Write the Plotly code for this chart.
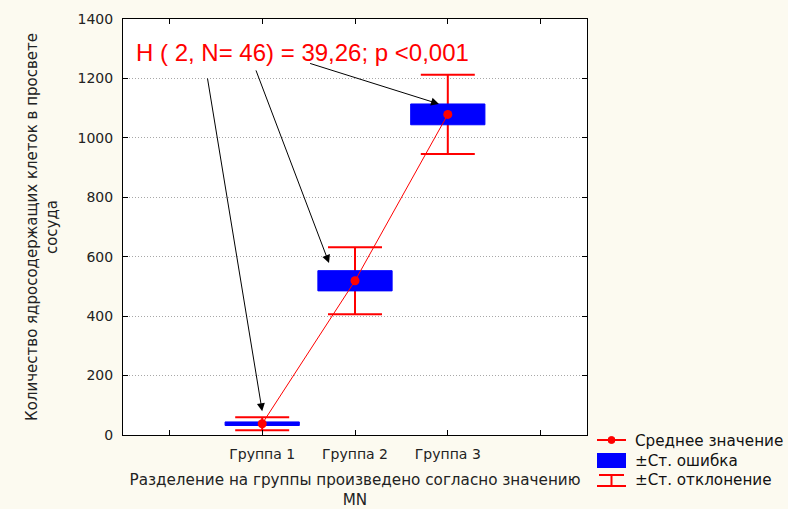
import plotly.graph_objects as go

# ---- data ----
groups = ["Группа 1", "Группа 2", "Группа 3"]
positions = [2, 3, 4]
means = [38, 519, 1079]
se = [6, 34, 35]
sd = [22, 113, 133]

FONT = "DejaVu Sans, Verdana, sans-serif"
AFONT = "Liberation Sans, Arial, sans-serif"
W, H = 788, 509
L, R, T, B = 123, 201, 19, 74
pw, ph = W - L - R, H - T - B

def px(x):
    return (x - L) / pw

def py(y):
    return (H - B - y) / ph

fig = go.Figure()

# SD error bars
fig.add_trace(go.Scatter(
    x=positions, y=means, mode="markers",
    marker=dict(size=1, color="rgba(0,0,0,0)"),
    error_y=dict(type="data", array=sd, visible=True, color="#ff0000",
                 thickness=2, width=27),
    showlegend=False, hoverinfo="skip"))

# SE boxes
half = 0.4
for xp, m, s in zip(positions, means, se):
    fig.add_trace(go.Scatter(
        x=[xp - half, xp + half, xp + half, xp - half, xp - half],
        y=[m - s, m - s, m + s, m + s, m - s],
        mode="lines", fill="toself", fillcolor="#0000ff",
        line=dict(color="#0000ff", width=1),
        showlegend=False, hoverinfo="skip"))

# mean line
fig.add_trace(go.Scatter(
    x=positions, y=means, mode="lines+markers",
    line=dict(color="#ff0000", width=1),
    marker=dict(color="#ff0000", size=9),
    showlegend=False))

annotations = [
    dict(x=2.435, y=1287, xref="x", yref="y", showarrow=False,
         text="H ( 2, N= 46) = 39,26; p <0,001",
         font=dict(family=AFONT, size=24, color="#ff0000")),
]
arrows = [((1.408, 1205), (2.0, 80)),
          ((1.927, 1232), (2.72, 579)),
          ((2.5, 1252), (3.905, 1114))]
for (tx, ty), (hx, hy) in arrows:
    annotations.append(dict(x=hx, y=hy, ax=tx, ay=ty, xref="x", yref="y",
                            axref="x", ayref="y", text="", showarrow=True,
                            arrowhead=2, arrowsize=1.6, arrowwidth=1,
                            arrowcolor="#000000"))

# manual legend
shapes = []
leg_x0, leg_x1 = 597, 626
shapes.append(dict(type="line", xref="paper", yref="paper",
                   x0=px(leg_x0), x1=px(leg_x1), y0=py(440), y1=py(440),
                   line=dict(color="#ff0000", width=2)))
shapes.append(dict(type="circle", xref="paper", yref="paper",
                   x0=px(608), x1=px(615), y0=py(443.5), y1=py(436.5),
                   fillcolor="#ff0000", line=dict(color="#ff0000", width=1)))
shapes.append(dict(type="rect", xref="paper", yref="paper",
                   x0=px(leg_x0), x1=px(leg_x1), y0=py(468), y1=py(453),
                   fillcolor="#0000ff", line=dict(width=0)))
shapes.append(dict(type="line", xref="paper", yref="paper",
                   x0=px(leg_x0 + 2), x1=px(leg_x1 - 2), y0=py(475), y1=py(475),
                   line=dict(color="#ff0000", width=2)))
shapes.append(dict(type="line", xref="paper", yref="paper",
                   x0=px(611.5), x1=px(611.5), y0=py(475), y1=py(486),
                   line=dict(color="#ff0000", width=2)))
shapes.append(dict(type="line", xref="paper", yref="paper",
                   x0=px(leg_x0), x1=px(leg_x1), y0=py(486), y1=py(486),
                   line=dict(color="#ff0000", width=2)))

legend_labels = ["Среднее значение", "±Ст. ошибка", "±Ст. отклонение"]
legend_y = [441, 461, 480]
for lab, ly in zip(legend_labels, legend_y):
    annotations.append(dict(x=px(633), y=py(ly), xref="paper", yref="paper",
                            xanchor="left", yanchor="middle", showarrow=False,
                            text=lab, font=dict(family=FONT, size=15.2, color="#111111")))

fig.update_layout(
    width=W, height=H,
    margin=dict(l=L, r=R, t=T, b=B),
    paper_bgcolor="#fcfaf0",
    plot_bgcolor="#ffffff",
    font=dict(family=FONT, size=14, color="#222222"),
    showlegend=False,
    annotations=annotations,
    shapes=shapes,
    xaxis=dict(range=[0.5, 5.5], tickvals=[1, 2, 3, 4, 5],
               ticktext=[""] + groups + [""],
               ticks="inside", ticklen=5, tickcolor="#000000",
               showline=True, linecolor="#000000", linewidth=1, mirror="ticks",
               showgrid=False, zeroline=False, ticklabelstandoff=6,
               automargin=False,
               tickfont=dict(family=FONT, size=14, color="#222222"),
               title=dict(text="Разделение на группы произведено согласно значению<br>MN",
                          font=dict(family=FONT, size=15.2, color="#222222"),
                          standoff=18)),
    yaxis=dict(range=[0, 1400], tickvals=[0, 200, 400, 600, 800, 1000, 1200, 1400],
               ticks="inside", ticklen=5, tickcolor="#000000",
               showline=True, linecolor="#000000", linewidth=1, mirror="ticks",
               showgrid=True, gridcolor="#a8a8a8", griddash="1px,2px", gridwidth=1,
               zeroline=False, ticklabelstandoff=6, automargin=False,
               tickfont=dict(family=FONT, size=14, color="#222222"),
               title=dict(text="Количество ядросодержащих клеток в просвете<br>сосуда",
                          font=dict(family=FONT, size=15, color="#222222"),
                          standoff=16)),
)

fig.write_html("out.html")
